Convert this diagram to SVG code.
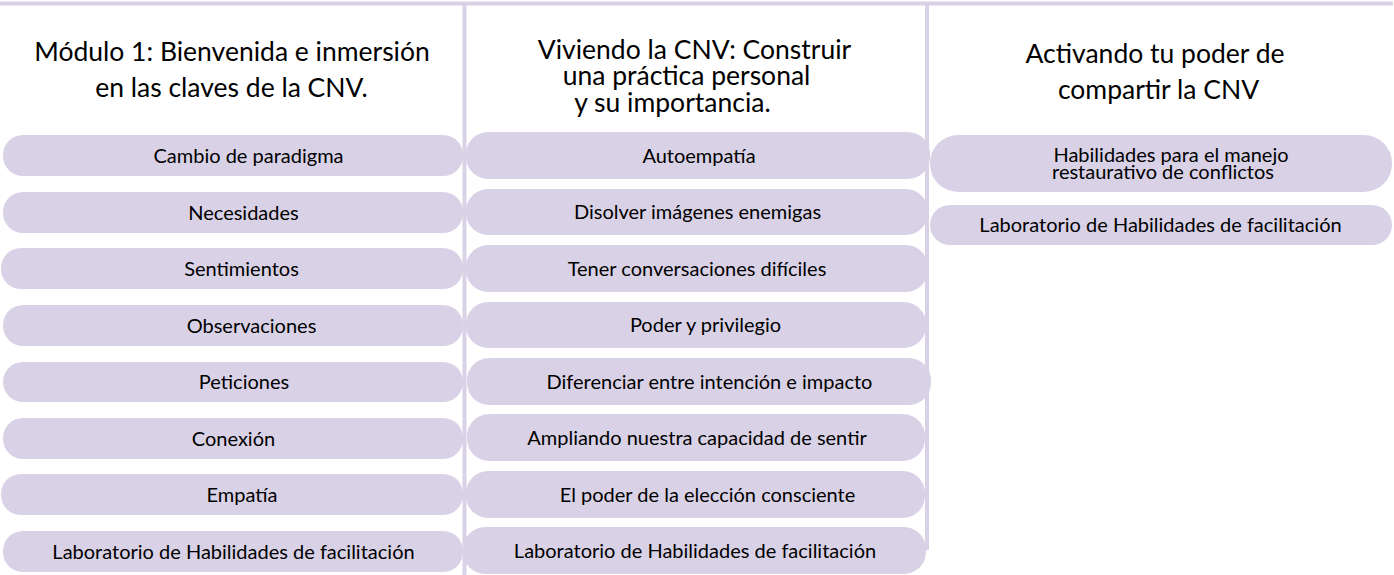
<svg xmlns="http://www.w3.org/2000/svg" width="1394" height="575" viewBox="0 0 1394 575">
<style>
.pill{fill:#d9d2e6;}
.line{stroke:#d9d2e6;stroke-width:4;fill:none;}
.t{font-family:Lato,"Liberation Sans",sans-serif;font-size:20px;fill:#000;text-anchor:middle;}
.h{font-family:Lato,"Liberation Sans",sans-serif;font-size:26.5px;fill:#000;text-anchor:middle;}
</style>
<rect width="1394" height="575" fill="#fff"/>
<g id="connectors">
<line class="line" x1="0" y1="3.5" x2="1393" y2="3.5"/>
<line class="line" x1="464.5" y1="3" x2="464.5" y2="575"/>
<line class="line" x1="927" y1="3" x2="927" y2="550"/>
</g>
<g id="heading1">
<text class="h" x="232" y="61">Módulo 1: Bienvenida e inmersión</text>
<text class="h" x="231.5" y="97">en las claves de la CNV.</text>
</g>
<g id="heading2">
<text class="h"><tspan x="694.5" y="59">Viviendo la CNV: Construir</tspan><tspan x="686.5" y="85">una práctica personal</tspan><tspan x="672.5" y="112">y su importancia.</tspan></text>
</g>
<g id="heading3">
<text class="h" x="1155" y="63">Activando tu poder de</text>
<text class="h" x="1158.5" y="99">compartir la CNV</text>
</g>
<g id="c1-1"><rect class="pill" x="3" y="135" width="460" height="41" rx="20"/><text class="t" x="248.5" y="162.5">Cambio de paradigma</text></g>
<g id="c1-2"><rect class="pill" x="3" y="192" width="460" height="41" rx="20"/><text class="t" x="243.5" y="219.5">Necesidades</text></g>
<g id="c1-3"><rect class="pill" x="1" y="248" width="462" height="41" rx="20"/><text class="t" x="241.5" y="275.5">Sentimientos</text></g>
<g id="c1-4"><rect class="pill" x="3" y="305" width="460" height="41" rx="20"/><text class="t" x="251.5" y="332.5">Observaciones</text></g>
<g id="c1-5"><rect class="pill" x="3" y="362" width="460" height="40" rx="20"/><text class="t" x="244" y="389">Peticiones</text></g>
<g id="c1-6"><rect class="pill" x="3" y="418" width="460" height="41" rx="20"/><text class="t" x="233.5" y="445.5">Conexión</text></g>
<g id="c1-7"><rect class="pill" x="1" y="474" width="462" height="41" rx="20"/><text class="t" x="242" y="501.5">Empatía</text></g>
<g id="c1-8"><rect class="pill" x="3" y="531" width="460" height="41" rx="20"/><text class="t" x="233.5" y="558.5">Laboratorio de Habilidades de facilitación</text></g>
<g id="c2-1"><rect class="pill" x="466" y="132" width="464" height="47" rx="22"/><text class="t" x="699" y="162.5">Autoempatía</text></g>
<g id="c2-2"><rect class="pill" x="466" y="189" width="462" height="46" rx="22"/><text class="t" x="697.5" y="219">Disolver imágenes enemigas</text></g>
<g id="c2-3"><rect class="pill" x="466" y="245" width="462" height="47" rx="22"/><text class="t" x="697" y="275.5">Tener conversaciones difíciles</text></g>
<g id="c2-4"><rect class="pill" x="466" y="302" width="460" height="46" rx="22"/><text class="t" x="705.5" y="332">Poder y privilegio</text></g>
<g id="c2-5"><rect class="pill" x="467" y="358" width="464" height="47" rx="22"/><text class="t" x="709.5" y="388.5">Diferenciar entre intención e impacto</text></g>
<g id="c2-6"><rect class="pill" x="467" y="414" width="458" height="47" rx="22"/><text class="t" x="697" y="444.5">Ampliando nuestra capacidad de sentir</text></g>
<g id="c2-7"><rect class="pill" x="466" y="471" width="459" height="47" rx="22"/><text class="t" x="707.5" y="501.5">El poder de la elección consciente</text></g>
<g id="c2-8"><rect class="pill" x="463" y="527" width="463" height="47" rx="22"/><text class="t" x="695" y="557.5">Laboratorio de Habilidades de facilitación</text></g>
<g id="c3-1"><rect class="pill" x="930" y="135" width="462" height="57" rx="28"/><text class="t"><tspan x="1171" y="162">Habilidades para el manejo</tspan><tspan x="1163" y="179">restaurativo de conflictos</tspan></text></g>
<g id="c3-2"><rect class="pill" x="930" y="205" width="462" height="40" rx="20"/><text class="t" x="1160.5" y="232">Laboratorio de Habilidades de facilitación</text></g>
</svg>
